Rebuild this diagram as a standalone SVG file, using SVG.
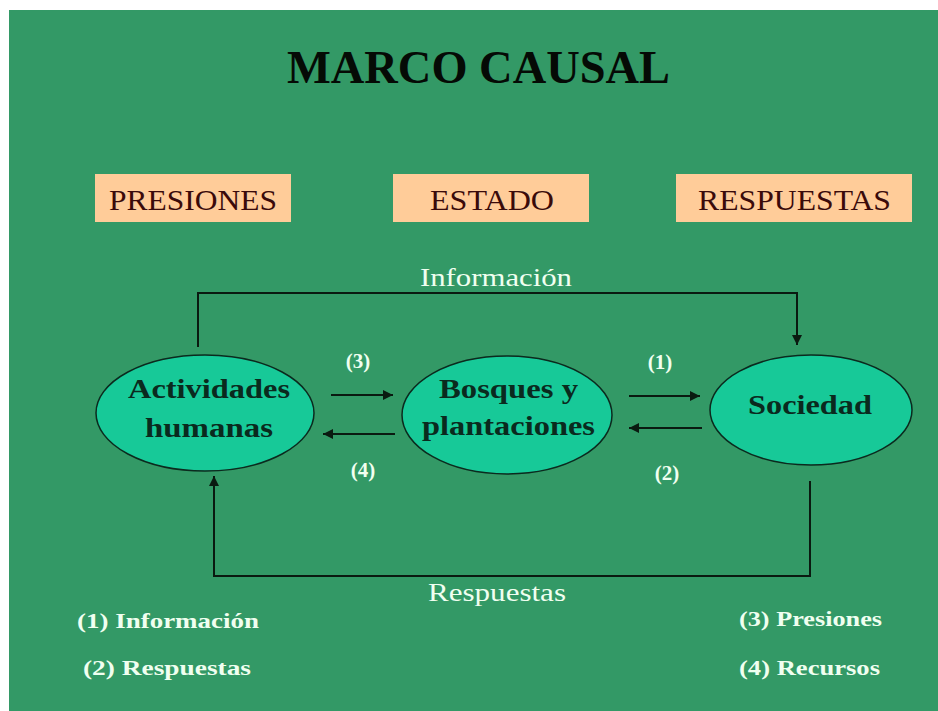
<svg xmlns="http://www.w3.org/2000/svg" width="938" height="711" viewBox="0 0 938 711">
<style>
.box{fill:#ffcc99}
.boxt{font-family:"Liberation Serif",serif;font-size:30px;fill:#3a0a0a}
.ell{fill:#17c998;stroke:#0b2a1e;stroke-width:1.5}
.et{font-family:"Liberation Serif",serif;font-size:27px;font-weight:bold;fill:#0a2a1e}
.lbl{font-family:"Liberation Serif",serif;font-size:26px;fill:#f0fff0}
.num{font-family:"Liberation Serif",serif;font-size:21px;font-weight:bold;fill:#f0fff0;text-anchor:middle}
.leg{font-family:"Liberation Serif",serif;font-size:22px;font-weight:bold;fill:#f0fff0}
.ln{fill:none;stroke:#0a1a10;stroke-width:2}
</style>
<defs>
<marker id="ah" viewBox="0 0 10 10" refX="10" refY="5" markerWidth="5" markerHeight="5" markerUnits="strokeWidth" orient="auto">
<path d="M0,0 L10,5 L0,10 z" fill="#0a1a10"/>
</marker>
</defs>
<rect x="0" y="0" width="938" height="711" fill="#ffffff"/>
<rect x="9" y="10" width="929" height="701" fill="#339966"/>
<text x="287" y="83" font-family="'Liberation Serif',serif" font-size="46" font-weight="bold" fill="#050a05" textLength="383" lengthAdjust="spacingAndGlyphs">MARCO CAUSAL</text>
<g id="presiones"><rect class="box" x="95" y="174" width="196" height="48"/><text class="boxt" x="109" y="210" textLength="168" lengthAdjust="spacingAndGlyphs">PRESIONES</text></g>
<g id="estado"><rect class="box" x="393" y="174" width="196" height="48"/><text class="boxt" x="430" y="210" textLength="124" lengthAdjust="spacingAndGlyphs">ESTADO</text></g>
<g id="respuestas"><rect class="box" x="676" y="174" width="236" height="48"/><text class="boxt" x="698" y="210" textLength="193" lengthAdjust="spacingAndGlyphs">RESPUESTAS</text></g>
<g id="connectors">
<polyline class="ln" points="198,347 198,293 797,293 797,345" marker-end="url(#ah)"/>
<text class="lbl" x="420" y="286" textLength="152" lengthAdjust="spacingAndGlyphs">Información</text>
<polyline class="ln" points="810,481 810,576 214,576 214,476" marker-end="url(#ah)"/>
<text class="lbl" x="428" y="601" textLength="138" lengthAdjust="spacingAndGlyphs">Respuestas</text>
<line class="ln" x1="331" y1="395" x2="393" y2="395" marker-end="url(#ah)"/>
<line class="ln" x1="395" y1="434" x2="323" y2="434" marker-end="url(#ah)"/>
<line class="ln" x1="629" y1="396" x2="700" y2="396" marker-end="url(#ah)"/>
<line class="ln" x1="702" y1="428" x2="629" y2="428" marker-end="url(#ah)"/>
<text class="num" x="358" y="368">(3)</text>
<text class="num" x="363" y="477">(4)</text>
<text class="num" x="660" y="369">(1)</text>
<text class="num" x="667" y="480">(2)</text>
</g>
<g id="actividades"><ellipse class="ell" cx="205" cy="413" rx="109" ry="58"/>
<text class="et" x="128" y="398" textLength="162" lengthAdjust="spacingAndGlyphs">Actividades</text>
<text class="et" x="145" y="437" textLength="128" lengthAdjust="spacingAndGlyphs">humanas</text></g>
<g id="bosques"><ellipse class="ell" cx="507" cy="415" rx="105" ry="59"/>
<text class="et" x="439" y="398" textLength="139" lengthAdjust="spacingAndGlyphs">Bosques y</text>
<text class="et" x="422" y="435" textLength="173" lengthAdjust="spacingAndGlyphs">plantaciones</text></g>
<g id="sociedad"><ellipse class="ell" cx="811" cy="410" rx="101" ry="55"/>
<text class="et" x="748" y="414" textLength="124" lengthAdjust="spacingAndGlyphs">Sociedad</text></g>
<g id="legend">
<text class="leg" x="77" y="628" textLength="182" lengthAdjust="spacingAndGlyphs">(1)  Información</text>
<text class="leg" x="83" y="675" textLength="168" lengthAdjust="spacingAndGlyphs">(2)  Respuestas</text>
<text class="leg" x="739" y="626" textLength="143" lengthAdjust="spacingAndGlyphs">(3) Presiones</text>
<text class="leg" x="739" y="675" textLength="141" lengthAdjust="spacingAndGlyphs">(4) Recursos</text>
</g>
</svg>
